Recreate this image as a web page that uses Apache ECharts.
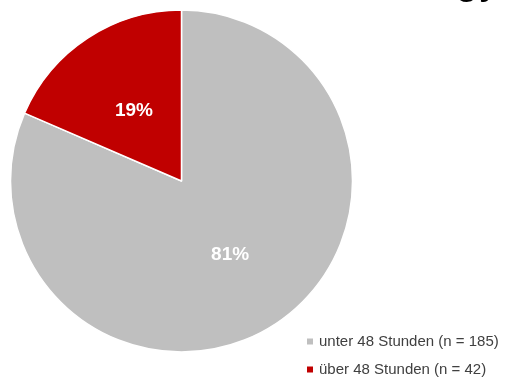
<!DOCTYPE html>
<html>
<head>
<meta charset="utf-8">
<script src="https://cdn.jsdelivr.net/npm/echarts@6/dist/echarts.min.js"></script>
<style>
  html, body { margin: 0; padding: 0; background: #fff; }
  #chart { width: 505px; height: 378px; }
</style>
</head>
<body>
<div id="chart"></div>
<script>
// Response-time groups and their counts
const categories = ['unter 48 Stunden', 'über 48 Stunden'];
const counts = [185, 42];
const colors = ['#BFBFBF', '#C00000'];
const labelOffsets = [[0, 0], [1, 4]];

const total = counts.reduce((a, b) => a + b, 0);
const legendNames = categories.map((c, i) => c + ' (n = ' + counts[i] + ')');

const chart = echarts.init(document.getElementById('chart'), null, { renderer: 'canvas' });

chart.setOption({
  animation: false,
  backgroundColor: '#ffffff',
  graphic: [{
    type: 'text',
    left: 455,
    top: -41,
    style: {
      text: 'gy',
      font: '44px "Liberation Sans", sans-serif',
      fill: '#000000'
    }
  }],
  legend: {
    orient: 'vertical',
    left: 305,
    top: 334,
    height: 60,
    padding: 0,
    itemWidth: 8,
    itemHeight: 8,
    itemGap: 13,
    icon: 'rect',
    textStyle: {
      fontFamily: '"Liberation Sans", sans-serif',
      fontSize: 15,
      color: '#404040'
    },
    data: legendNames
  },
  series: [{
    type: 'pie',
    center: [181.5, 181],
    radius: 171,
    startAngle: 90,
    clockwise: true,
    avoidLabelOverlap: false,
    itemStyle: { borderColor: '#ffffff', borderWidth: 1.5 },
    label: {
      show: true,
      position: 'inside',
      formatter: p => Math.round(p.value / total * 100) + '%',
      color: '#ffffff',
      fontFamily: '"Liberation Sans", sans-serif',
      fontWeight: 'bold',
      fontSize: 19
    },
    labelLine: { show: false },
    emphasis: { disabled: true },
    data: categories.map((c, i) => ({
      name: legendNames[i],
      value: counts[i],
      itemStyle: { color: colors[i] },
      label: { offset: labelOffsets[i] }
    }))
  }]
});
</script>
</body>
</html>
